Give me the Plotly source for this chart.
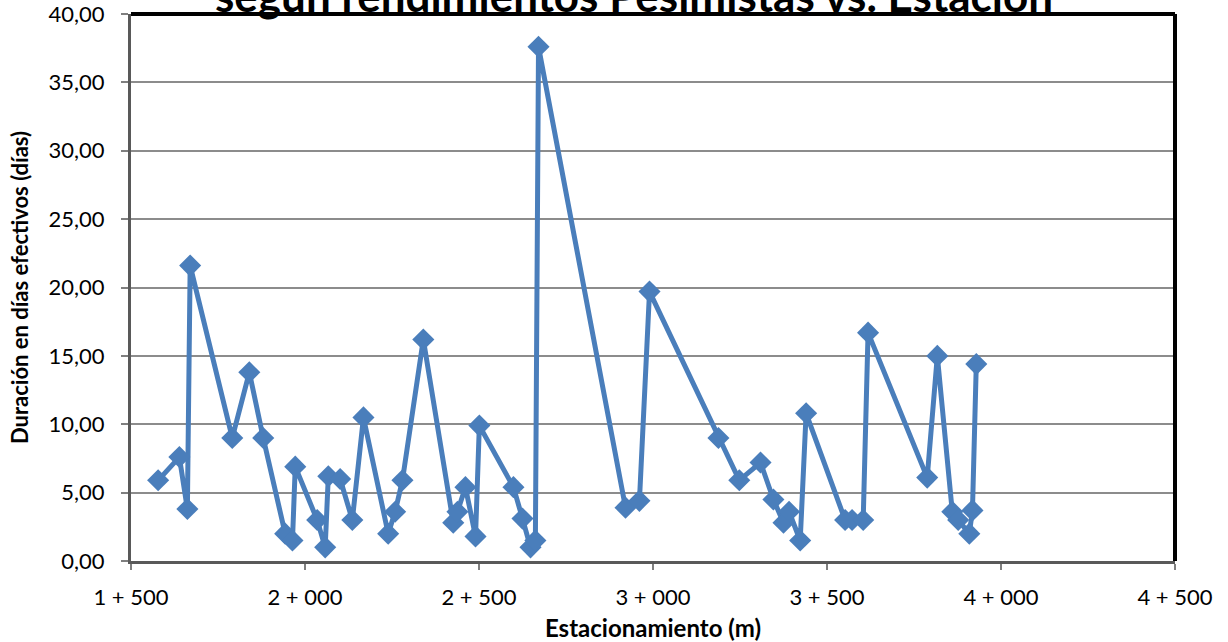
import plotly.graph_objects as go

# Estacionamiento (m) de cada actividad y su duración pesimista (días efectivos)
estacion_m = [
    1578, 1639, 1662, 1670, 1791, 1840, 1880, 1943, 1964, 1972,
    2035, 2058, 2067, 2101, 2136, 2168, 2239, 2259, 2280, 2340,
    2426, 2438, 2461, 2490, 2501, 2599, 2625, 2648, 2662, 2671,
    2921, 2961, 2990, 3188, 3248, 3309, 3346, 3375, 3391, 3423,
    3440, 3552, 3572, 3604, 3618, 3788, 3817, 3860, 3877, 3909,
    3918, 3929,
]
duracion_dias = [
    5.9, 7.6, 3.8, 21.6, 9.0, 13.8, 9.0, 2.0, 1.5, 6.9,
    3.0, 1.0, 6.2, 6.0, 3.0, 10.5, 2.0, 3.6, 5.9, 16.2,
    2.8, 3.6, 5.4, 1.8, 9.9, 5.4, 3.1, 1.0, 1.5, 37.6,
    3.9, 4.4, 19.7, 9.0, 5.9, 7.2, 4.5, 2.8, 3.6, 1.5,
    10.8, 3.0, 3.0, 3.0, 16.7, 6.1, 15.0, 3.6, 3.0, 2.0,
    3.7, 14.4,
]

x_ticks = [1500, 2000, 2500, 3000, 3500, 4000, 4500]
x_tick_labels = ["1 + 500", "2 + 000", "2 + 500", "3 + 000", "3 + 500", "4 + 000", "4 + 500"]
y_ticks = [0, 5, 10, 15, 20, 25, 30, 35, 40]

titulo = "según rendimientos Pesimistas vs. Estación"
titulo_x = "Estacionamiento (m)"
titulo_y = "Duración en días efectivos (días)"

azul = "#4A7EBB"
fuente = "Lato"

fig = go.Figure(
    go.Scatter(
        x=estacion_m,
        y=duracion_dias,
        mode="lines+markers",
        line=dict(color=azul, width=5),
        marker=dict(symbol="diamond", size=17, color=azul),
        hoverinfo="x+y",
    )
)

fig.update_layout(
    width=1228,
    height=642,
    margin=dict(l=131, r=53, t=14, b=81),
    paper_bgcolor="white",
    plot_bgcolor="white",
    separators=", ",
    showlegend=False,
    font=dict(family=fuente, color="black"),
)

fig.update_xaxes(
    range=[1500, 4500],
    tickmode="array",
    tickvals=x_ticks,
    ticktext=x_tick_labels,
    tickfont=dict(size=22, family=fuente),
    ticks="outside",
    ticklen=6,
    tickwidth=1.5,
    tickcolor="#7f7f7f",
    ticklabelstandoff=9,
    ticklabeloverflow="allow",
    showgrid=False,
    zeroline=False,
    showline=True,
    linecolor="#595959",
    linewidth=3,
    automargin=False,
    title=dict(text="<b>" + titulo_x + "</b>", font=dict(size=24, family=fuente), standoff=12),
)

fig.update_yaxes(
    range=[0, 40],
    tickmode="array",
    tickvals=y_ticks,
    tickformat=".2f",
    tickfont=dict(size=22, family=fuente),
    ticks="outside",
    ticklen=7,
    tickwidth=1.5,
    tickcolor="#7f7f7f",
    ticklabelstandoff=12,
    ticklabeloverflow="allow",
    showgrid=True,
    gridcolor="#8c8c8c",
    gridwidth=1.5,
    zeroline=False,
    showline=True,
    linecolor="#595959",
    linewidth=3,
    automargin=False,
    title=dict(text="<b>" + titulo_y + "</b>", font=dict(size=22, family=fuente), standoff=14),
)

# Borde negro superior y derecho del área de trazado
fig.add_shape(type="line", xref="paper", yref="paper", x0=0, x1=1, y0=1, y1=1,
              line=dict(color="black", width=4))
fig.add_shape(type="line", xref="paper", yref="paper", x0=1, x1=1, y0=0, y1=1,
              line=dict(color="black", width=4))

fig.add_annotation(
    text="<b>" + titulo + "</b>",
    xref="paper", yref="paper",
    x=0.482, y=0.984,
    xanchor="center", yanchor="bottom",
    showarrow=False,
    font=dict(size=44, family=fuente, color="black"),
)

fig.write_html("out.html")
